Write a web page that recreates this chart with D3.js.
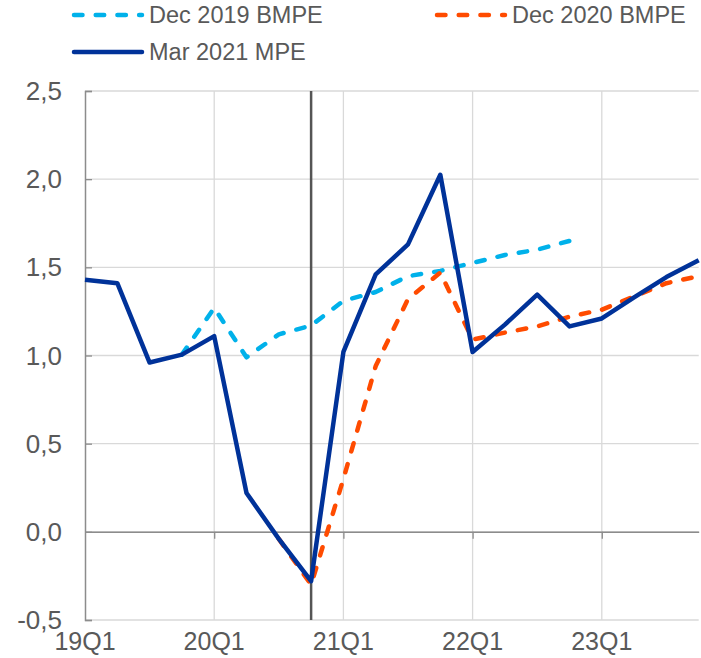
<!DOCTYPE html>
<html>
<head>
<meta charset="utf-8">
<script src="https://cdn.jsdelivr.net/npm/d3@7"></script>
<style>
  body { margin: 0; background: #fff; }
  svg { display: block; font-family: "Liberation Sans", Arial, sans-serif; }
</style>
</head>
<body>
<div id="chart"></div>
<script>
var width = 701,
    height = 658;

// data
var quarters = ["19Q1","19Q2","19Q3","19Q4","20Q1","20Q2","20Q3","20Q4",
                "21Q1","21Q2","21Q3","21Q4","22Q1","22Q2","22Q3","22Q4",
                "23Q1","23Q2","23Q3","23Q4"];
var tickLabels = ["19Q1","20Q1","21Q1","22Q1","23Q1"];
var yTicks = [-0.5, 0, 0.5, 1, 1.5, 2, 2.5];

var mar2021 = [1.43, 1.41, 0.96, 1.005, 1.11, 0.22, -0.04, -0.28,
               1.02, 1.46, 1.63, 2.025, 1.02, 1.175, 1.345, 1.165,
               1.21, 1.33, 1.445, 1.54];
var dec2019 = [null, null, null, 1.005, 1.27, 0.99, 1.12, 1.17,
               1.31, 1.36, 1.45, 1.48, 1.525, 1.57, 1.60, 1.65,
               null, null, null, null];
var dec2020 = [null, null, null, null, null, null, -0.04, -0.30,
               0.30, 0.94, 1.32, 1.47, 1.09, 1.13, 1.165, 1.22,
               1.26, 1.335, 1.41, 1.45];
var markerQuarter = "20Q4";

var series = [
  {name: "Dec 2019 BMPE", values: dec2019, color: "#00b1ea", dash: "8.5,13.2"},
  {name: "Dec 2020 BMPE", values: dec2020, color: "#ff4b00", dash: "8.5,13.2"},
  {name: "Mar 2021 MPE", values: mar2021, color: "#003299", dash: null}
];

var margin = {top: 91, right: 2.3, bottom: 38, left: 85};

var svg = d3.select("#chart").append("svg")
    .attr("width", width)
    .attr("height", height);

var x = d3.scalePoint()
    .domain(quarters)
    .range([margin.left, width - margin.right]);

var y = d3.scaleLinear()
    .domain([-0.5, 2.5])
    .range([height - margin.bottom, margin.top]);

// comma decimals, plain hyphen for minus
var fmt = function(d) { return d3.format(".1f")(d).replace(".", ",").replace("\u2212", "-"); };

// grid
svg.append("g")
  .selectAll("line")
  .data(yTicks)
  .join("line")
    .attr("x1", margin.left)
    .attr("x2", width - margin.right)
    .attr("y1", d => y(d))
    .attr("y2", d => y(d))
    .attr("stroke", "#d9d9d9")
    .attr("stroke-width", 1.3);

svg.append("g")
  .selectAll("line")
  .data(tickLabels.slice(1))
  .join("line")
    .attr("x1", d => x(d))
    .attr("x2", d => x(d))
    .attr("y1", y(2.5))
    .attr("y2", y(-0.5))
    .attr("stroke", "#d9d9d9")
    .attr("stroke-width", 1.3);

// y axis
var yAxis = g => g
    .attr("transform", `translate(${margin.left},0)`)
    .call(d3.axisRight(y).tickValues(yTicks).tickSize(7).tickFormat(""))
    .call(g => g.select(".domain").attr("stroke", "#8c8c8c").attr("stroke-width", 1.5))
    .call(g => g.selectAll(".tick line").attr("stroke", "#8c8c8c").attr("stroke-width", 1.3));

svg.append("g").call(yAxis);

svg.append("g")
  .selectAll("text")
  .data(yTicks)
  .join("text")
    .attr("x", 62)
    .attr("y", d => y(d))
    .attr("dy", "0.35em")
    .attr("text-anchor", "end")
    .attr("fill", "#595959")
    .style("font-size", "26px")
    .text(fmt);

// x axis at zero
var xAxis = g => g
    .attr("transform", `translate(0,${y(0)})`)
    .call(d3.axisBottom(x).tickValues(tickLabels.slice(1)).tickSize(7).tickSizeOuter(0).tickFormat(""))
    .call(g => g.select(".domain").attr("stroke", "#8c8c8c").attr("stroke-width", 1.5))
    .call(g => g.selectAll(".tick line").attr("stroke", "#8c8c8c").attr("stroke-width", 1.3));

svg.append("g").call(xAxis);

svg.append("g")
  .selectAll("text")
  .data(tickLabels)
  .join("text")
    .attr("x", d => x(d))
    .attr("y", 650)
    .attr("text-anchor", "middle")
    .attr("fill", "#595959")
    .style("font-size", "25px")
    .text(d => d);

// marker line
svg.append("line")
    .attr("x1", x(markerQuarter))
    .attr("x2", x(markerQuarter))
    .attr("y1", y(2.5))
    .attr("y2", y(-0.5))
    .attr("stroke", "#555555")
    .attr("stroke-width", 2.5);

// lines
var line = d3.line()
    .defined(d => d.v != null)
    .x(d => x(d.q))
    .y(d => y(d.v));

series.forEach(function(s) {
  var pts = quarters.map((q, i) => ({q: q, v: s.values[i]}));
  svg.append("path")
      .datum(pts)
      .attr("fill", "none")
      .attr("stroke", s.color)
      .attr("stroke-width", 4.5)
      .attr("stroke-linejoin", "round")
      .attr("stroke-linecap", s.dash ? "round" : "butt")
      .attr("stroke-dasharray", s.dash)
      .attr("d", line);
});

// legend
var legendPos = [
  {x: 72, y: 15},
  {x: 435, y: 15},
  {x: 72, y: 52}
];

series.forEach(function(s, i) {
  var p = legendPos[i];
  svg.append("line")
      .attr("x1", p.x + 2)
      .attr("x2", p.x + 70)
      .attr("y1", p.y)
      .attr("y2", p.y)
      .attr("stroke", s.color)
      .attr("stroke-width", 4.5)
      .attr("stroke-linecap", "round")
      .attr("stroke-dasharray", s.dash);
  svg.append("text")
      .attr("x", p.x + 77)
      .attr("y", p.y + 8)
      .attr("fill", "#595959")
      .style("font-size", "23.5px")
      .text(s.name);
});
</script>
</body>
</html>
